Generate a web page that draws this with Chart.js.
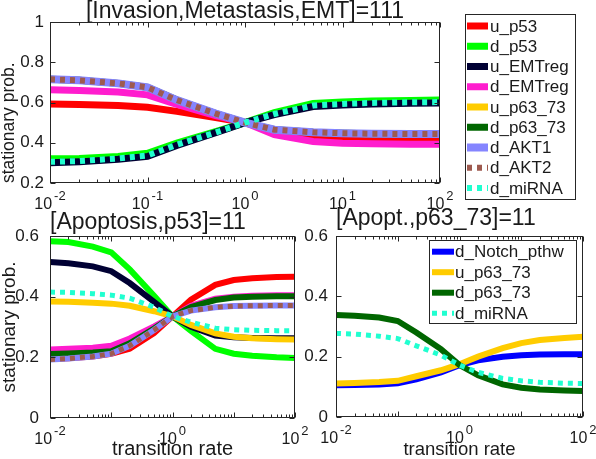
<!DOCTYPE html>
<html>
<head>
<meta charset="utf-8">
<script src="https://cdn.jsdelivr.net/npm/chart.js@4/dist/chart.umd.min.js"></script>
<style>
body { margin: 0; background: #fff; }
#wrap { position: relative; width: 596px; height: 459px; overflow: hidden; }
canvas { position: absolute; }
</style>
</head>
<body>
<div id="wrap">
  <canvas id="cTop" width="596" height="215" style="left:0;top:0"></canvas>
  <canvas id="cApo" width="320" height="259" style="left:0;top:200px"></canvas>
  <canvas id="cP63" width="296" height="259" style="left:300px;top:200px"></canvas>
</div>
<script>
const rates = [0.01, 0.02, 0.05, 0.1, 0.2, 0.5, 1, 2, 5, 10, 20, 50, 100];

// [Invasion,Metastasis,EMT]=111
const inv_u_p53    = [0.592, 0.590, 0.585, 0.576, 0.556, 0.525, 0.500, 0.455, 0.430, 0.425, 0.422, 0.420, 0.420];
const inv_d_p53    = [0.320, 0.322, 0.332, 0.348, 0.398, 0.455, 0.500, 0.550, 0.595, 0.603, 0.607, 0.610, 0.612];
const inv_u_EMTreg = [0.300, 0.305, 0.318, 0.332, 0.387, 0.450, 0.500, 0.540, 0.580, 0.588, 0.593, 0.596, 0.597];
const inv_d_EMTreg = [0.663, 0.660, 0.652, 0.638, 0.590, 0.535, 0.500, 0.440, 0.406, 0.398, 0.395, 0.393, 0.392];
const inv_u_p63_73 = [0.715, 0.710, 0.695, 0.675, 0.612, 0.545, 0.500, 0.465, 0.452, 0.447, 0.445, 0.443, 0.443];
const inv_d_p63_73 = [0.715, 0.710, 0.695, 0.675, 0.612, 0.545, 0.500, 0.465, 0.452, 0.447, 0.445, 0.443, 0.443];
const inv_d_AKT1   = [0.715, 0.710, 0.695, 0.675, 0.612, 0.545, 0.500, 0.465, 0.452, 0.447, 0.445, 0.443, 0.443];
const inv_d_AKT2   = [0.715, 0.710, 0.695, 0.675, 0.612, 0.545, 0.500, 0.465, 0.452, 0.447, 0.445, 0.443, 0.443];
const inv_d_miRNA  = [0.305, 0.309, 0.322, 0.337, 0.390, 0.451, 0.500, 0.543, 0.585, 0.593, 0.598, 0.601, 0.602];

// [Apoptosis,p53]=11
const apo_u_p53    = [0.195, 0.197, 0.203, 0.212, 0.228, 0.280, 0.335, 0.390, 0.439, 0.455, 0.461, 0.465, 0.466];
const apo_d_p53    = [0.583, 0.580, 0.565, 0.546, 0.490, 0.403, 0.335, 0.287, 0.228, 0.212, 0.205, 0.200, 0.198];
const apo_u_EMTreg = [0.514, 0.510, 0.500, 0.484, 0.445, 0.383, 0.335, 0.301, 0.272, 0.266, 0.264, 0.263, 0.263];
const apo_d_EMTreg = [0.226, 0.228, 0.232, 0.238, 0.262, 0.302, 0.335, 0.370, 0.393, 0.400, 0.403, 0.405, 0.405];
const apo_u_p63_73 = [0.384, 0.383, 0.380, 0.377, 0.370, 0.352, 0.335, 0.307, 0.279, 0.268, 0.263, 0.260, 0.259];
const apo_d_p63_73 = [0.211, 0.213, 0.216, 0.220, 0.246, 0.295, 0.335, 0.366, 0.389, 0.397, 0.400, 0.401, 0.401];
const apo_d_AKT1   = [0.193, 0.196, 0.203, 0.212, 0.238, 0.290, 0.335, 0.354, 0.365, 0.369, 0.370, 0.371, 0.371];
const apo_d_AKT2   = [0.193, 0.196, 0.203, 0.212, 0.238, 0.290, 0.335, 0.354, 0.365, 0.369, 0.370, 0.371, 0.371];
const apo_d_miRNA  = [0.415, 0.414, 0.410, 0.405, 0.395, 0.365, 0.335, 0.316, 0.296, 0.291, 0.289, 0.288, 0.288];

// [Apopt.,p63_73]=11
const p63_d_Notch  = [0.105, 0.106, 0.108, 0.112, 0.125, 0.148, 0.172, 0.188, 0.200, 0.205, 0.207, 0.208, 0.208];
const p63_u_p63_73 = [0.111, 0.113, 0.116, 0.120, 0.135, 0.155, 0.175, 0.200, 0.228, 0.245, 0.255, 0.262, 0.266];
const p63_d_p63_73 = [0.338, 0.336, 0.330, 0.318, 0.280, 0.225, 0.172, 0.138, 0.108, 0.097, 0.091, 0.088, 0.086];
const p63_d_miRNA  = [0.277, 0.275, 0.268, 0.260, 0.236, 0.205, 0.172, 0.148, 0.128, 0.120, 0.115, 0.112, 0.111];

const topXTicks = [0.01, 0.1, 1, 10, 100];
const bottomXTicks = [0.01, 1, 100];

const FONT = "'Liberation Sans', Arial, Helvetica, sans-serif";
const INK = '#1a1a1a';
Chart.defaults.font.family = FONT;
Chart.defaults.color = INK;

const colors = {
  u_p53: '#ff0000', d_p53: '#00ff00', u_EMTreg: '#000033', d_EMTreg: '#ff1dce',
  u_p63_73: '#ffcc00', d_p63_73: '#006600', d_AKT1: '#8585ff', d_AKT2: '#9e5a4f',
  d_miRNA: '#20ffd0', d_Notch_pthw: '#0000ff'
};
const dotted = ['d_AKT2', 'd_miRNA'];

function series(label, ys, width) {
  const dot = dotted.indexOf(label) >= 0;
  return {
    label: label,
    data: ys.map((y, i) => ({ x: rates[i], y: y })),
    borderColor: colors[label],
    borderWidth: dot ? width - 1 : width,
    borderDash: dot ? [5, 5] : [],
    borderCapStyle: 'butt',
    pointRadius: 0,
    tension: 0,
    fill: false
  };
}

// matlab draws later lines on top
function stack(list) {
  list.forEach((d, i) => { d.order = list.length - i; });
  return list;
}

const frame = {
  id: 'frame',
  afterDraw(chart, args, opts) {
    const ctx = chart.ctx;
    const a = chart.chartArea;
    const sx = chart.scales.x, sy = chart.scales.y;
    const L = Math.round(a.left) + 0.5, R = Math.round(a.right) - 0.5;
    const T = Math.round(a.top) + 0.5, B = Math.round(a.bottom) - 0.5;
    ctx.save();
    ctx.strokeStyle = '#262626';
    ctx.lineWidth = 1;
    ctx.beginPath();
    for (let k = -2; k <= 2; k++) {
      for (let m = 1; m < 10; m++) {
        const v = m * Math.pow(10, k);
        if (v > 100) break;
        const px = Math.round(sx.getPixelForValue(v)) + 0.5;
        const len = m === 1 ? 5 : 3;
        ctx.moveTo(px, B); ctx.lineTo(px, B - len);
        ctx.moveTo(px, T); ctx.lineTo(px, T + len);
      }
    }
    sy.ticks.forEach(t => {
      const py = Math.round(sy.getPixelForValue(t.value)) + 0.5;
      ctx.moveTo(L, py); ctx.lineTo(L + 5, py);
      ctx.moveTo(R, py); ctx.lineTo(R - 5, py);
    });
    ctx.stroke();
    ctx.strokeRect(L, T, R - L, B - T);

    // power-of-ten tick labels
    ctx.fillStyle = INK;
    ctx.textBaseline = 'alphabetic';
    sx.ticks.forEach(t => {
      const exp = String(Math.round(Math.log10(t.value)));
      ctx.font = '16px ' + FONT;
      const w1 = ctx.measureText('10').width;
      ctx.font = '13px ' + FONT;
      const w2 = ctx.measureText(exp).width;
      const px = sx.getPixelForValue(t.value);
      const x0 = px - (w1 + w2 + 2) / 2;
      const base = a.bottom + 25.5;
      ctx.font = '16px ' + FONT;
      ctx.fillText('10', x0, base);
      ctx.font = '13px ' + FONT;
      ctx.fillText(exp, x0 + w1 + 2, base - 9);
    });

    const lg = opts.legend;
    if (lg) {
      ctx.fillStyle = '#fff';
      ctx.fillRect(lg.x, lg.y, lg.w, lg.h);
      ctx.strokeStyle = '#262626';
      ctx.lineWidth = 1;
      ctx.strokeRect(lg.x + 0.5, lg.y + 0.5, lg.w, lg.h);
      ctx.font = '17px ' + FONT;
      ctx.textBaseline = 'middle';
      chart.data.datasets.forEach((ds, i) => {
        const cy = lg.y + lg.first + i * lg.step;
        ctx.beginPath();
        ctx.strokeStyle = ds.borderColor;
        ctx.lineWidth = ds.borderWidth;
        ctx.setLineDash(ds.borderDash);
        ctx.moveTo(lg.x + lg.s0, cy);
        ctx.lineTo(lg.x + lg.s1, cy);
        ctx.stroke();
        ctx.setLineDash([]);
        ctx.fillStyle = INK;
        ctx.fillText(ds.label, lg.x + lg.tx, cy + 1);
      });
    }
    ctx.restore();
  }
};

function makeChart(id, cfg) {
  return new Chart(document.getElementById(id), {
    type: 'line',
    data: { datasets: cfg.datasets },
    options: {
      responsive: false,
      animation: false,
      layout: { padding: cfg.padding },
      plugins: {
        legend: { display: false },
        tooltip: { enabled: false },
        title: {
          display: true,
          text: cfg.title,
          align: cfg.titleAlign,
          fullSize: false,
          color: INK,
          font: { size: 23, weight: 'normal', lineHeight: 1 },
          padding: cfg.titlePad
        },
        frame: { legend: cfg.legend }
      },
      scales: {
        x: {
          type: 'logarithmic',
          min: 0.01,
          max: 100,
          afterBuildTicks: s => { s.ticks = cfg.xTicks.map(v => ({ value: v })); },
          afterFit: s => { s.height = cfg.xHeight; },
          grid: { display: false, drawTicks: false },
          border: { display: false },
          ticks: { display: false },
          title: {
            display: !!cfg.xTitle,
            text: cfg.xTitle,
            color: INK,
            font: { size: cfg.xTitleSize, lineHeight: 1 },
            padding: { top: -2, bottom: 0 }
          }
        },
        y: {
          min: cfg.yMin,
          max: cfg.yMax,
          afterFit: s => { s.width = cfg.yWidth; },
          grid: { display: false, drawTicks: false },
          border: { display: false },
          ticks: {
            stepSize: 0.2,
            padding: cfg.yPad,
            color: INK,
            font: { size: 17 },
            callback: v => String(Number(v.toFixed(2)))
          },
          title: {
            display: !!cfg.yTitle,
            text: cfg.yTitle,
            align: cfg.yTitleAlign || 'center',
            color: INK,
            font: { size: cfg.yTitleSize, lineHeight: 1 },
            padding: { top: 0, bottom: 0 }
          }
        }
      }
    },
    plugins: [frame]
  });
}

makeChart('cTop', {
  title: '[Invasion,Metastasis,EMT]=111',
  titleAlign: 'center',
  titlePad: { top: 0, bottom: -1 },
  padding: { left: 0, right: 156, top: 0, bottom: 0 },
  xTicks: topXTicks,
  xHeight: 32,
  yMin: 0.2, yMax: 1, yWidth: 50, yPad: 6,
  yTitle: 'stationary prob.', yTitleSize: 17.5, yTitleAlign: 'start',
  legend: { x: 465, y: 14, w: 110, h: 185, first: 12, step: 20.25, s0: 2, s1: 23, tx: 25 },
  datasets: stack([
    series('u_p53', inv_u_p53, 7),
    series('d_p53', inv_d_p53, 7),
    series('u_EMTreg', inv_u_EMTreg, 7),
    series('d_EMTreg', inv_d_EMTreg, 7),
    series('u_p63_73', inv_u_p63_73, 7),
    series('d_p63_73', inv_d_p63_73, 7),
    series('d_AKT1', inv_d_AKT1, 8),
    series('d_AKT2', inv_d_AKT2, 7),
    series('d_miRNA', inv_d_miRNA, 7)
  ])
});

makeChart('cApo', {
  title: '[Apoptosis,p53]=11',
  titleAlign: 'start',
  titlePad: { top: 11, bottom: 2 },
  padding: { left: 0, right: 25, top: 0, bottom: 0 },
  xTicks: bottomXTicks,
  xHeight: 41,
  xTitle: 'transition rate', xTitleSize: 20,
  yMin: 0, yMax: 0.6, yWidth: 50, yPad: 11,
  yTitle: 'stationary prob.', yTitleSize: 19,
  datasets: stack([
    series('u_p53', apo_u_p53, 6),
    series('d_p53', apo_d_p53, 6),
    series('u_EMTreg', apo_u_EMTreg, 6),
    series('d_EMTreg', apo_d_EMTreg, 6),
    series('u_p63_73', apo_u_p63_73, 6),
    series('d_p63_73', apo_d_p63_73, 6),
    series('d_AKT1', apo_d_AKT1, 6),
    series('d_AKT2', apo_d_AKT2, 6),
    series('d_miRNA', apo_d_miRNA, 6)
  ])
});

makeChart('cP63', {
  title: '[Apopt.,p63_73]=11',
  titleAlign: 'start',
  titlePad: { top: 7, bottom: 6 },
  padding: { left: 0, right: 13, top: 0, bottom: 0 },
  xTicks: bottomXTicks,
  xHeight: 42,
  xTitle: 'transition rate', xTitleSize: 18.5,
  yMin: 0, yMax: 0.6, yWidth: 36, yPad: 8,
  legend: { x: 129, y: 40, w: 147, h: 83, first: 11.7, step: 20.5, s0: 3, s1: 25, tx: 26 },
  datasets: stack([
    series('d_Notch_pthw', p63_d_Notch, 6),
    series('u_p63_73', p63_u_p63_73, 6),
    series('d_p63_73', p63_d_p63_73, 6),
    series('d_miRNA', p63_d_miRNA, 6)
  ])
});
</script>
</body>
</html>
